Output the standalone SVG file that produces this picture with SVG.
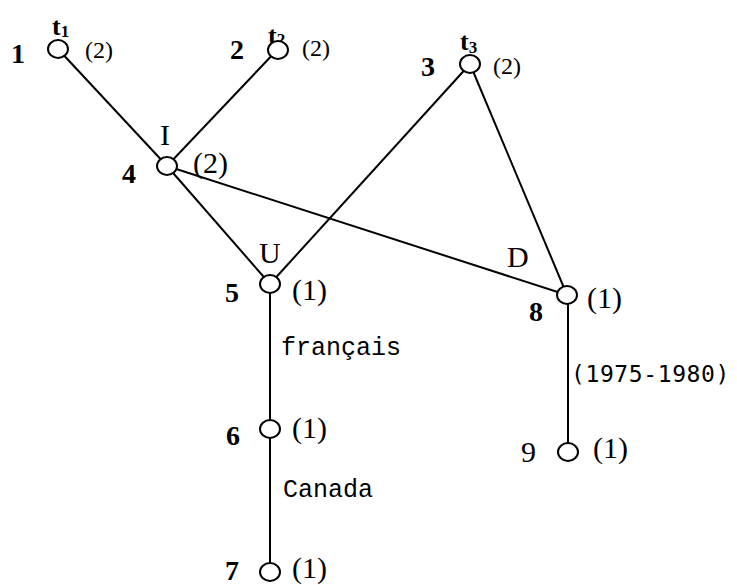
<svg xmlns="http://www.w3.org/2000/svg" width="737" height="585" viewBox="0 0 737 585">
<style>
.e{stroke:#000;stroke-width:2;fill:none}
.n{fill:#fff;stroke:#000;stroke-width:2}
.id{font-family:"Liberation Serif",serif;font-weight:bold;font-size:28px}
.t{font-family:"Liberation Serif",serif;font-weight:bold;font-size:26px}
.ts{font-family:"Liberation Serif",serif;font-weight:bold;font-size:17px}
.w{font-family:"Liberation Serif",serif;font-size:30px}
.ws{font-family:"Liberation Serif",serif;font-size:24px}
.lb{font-family:"Liberation Serif",serif;font-size:30px}
.m{font-family:"Liberation Mono",monospace;font-size:25px}
.ms{font-family:"DejaVu Sans Mono",monospace;font-size:23px;letter-spacing:0.6px}
</style>
<rect width="737" height="585" fill="#fff"/>
<g id="connectors">
<line class="e" x1="58" y1="49" x2="167" y2="166"/>
<line class="e" x1="278" y1="49" x2="167" y2="166"/>
<line class="e" x1="167" y1="166" x2="270" y2="284"/>
<line class="e" x1="167" y1="166" x2="567" y2="295"/>
<line class="e" x1="470" y1="64" x2="270" y2="284"/>
<line class="e" x1="470" y1="64" x2="567" y2="295"/>
<line class="e" x1="270" y1="284" x2="270" y2="429"/>
<line class="e" x1="270" y1="429" x2="270" y2="572"/>
<line class="e" x1="568" y1="295" x2="568" y2="452"/>
<text class="m" x="281" y="355">français</text>
<text class="m" x="283" y="497">Canada</text>
<text class="ms" x="571" y="382">(1975-1980)</text>
</g>
<g id="node1">
<text class="t" x="52" y="35">t<tspan class="ts" dy="2">1</tspan></text>
<ellipse class="n" cx="58" cy="49" rx="10" ry="9"/>
<text class="id" x="11" y="63">1</text>
<text class="ws" x="85" y="58">(2)</text>
</g>
<g id="node2">
<text class="t" x="268" y="44">t<tspan class="ts" dy="1">2</tspan></text>
<ellipse class="n" cx="278" cy="50" rx="10" ry="9"/>
<text class="id" x="230" y="59">2</text>
<text class="ws" x="302" y="56">(2)</text>
</g>
<g id="node3">
<text class="t" x="460" y="50">t<tspan class="ts" dy="3">3</tspan></text>
<ellipse class="n" cx="470" cy="64" rx="10" ry="9"/>
<text class="id" x="421" y="76">3</text>
<text class="ws" x="493" y="74">(2)</text>
</g>
<g id="node4">
<text class="lb" x="160" y="145">I</text>
<ellipse class="n" cx="167" cy="166" rx="10" ry="9"/>
<text class="id" x="122" y="183">4</text>
<text class="w" x="193" y="173">(2)</text>
</g>
<g id="node5">
<text class="lb" x="259" y="263">U</text>
<ellipse class="n" cx="270" cy="284" rx="10" ry="9"/>
<text class="id" x="225" y="302">5</text>
<text class="w" x="292" y="300">(1)</text>
</g>
<g id="node6">
<ellipse class="n" cx="270" cy="429" rx="10" ry="9"/>
<text class="id" x="226" y="445">6</text>
<text class="w" x="292" y="438">(1)</text>
</g>
<g id="node7">
<ellipse class="n" cx="270" cy="572" rx="10" ry="9"/>
<text class="id" x="225" y="580">7</text>
<text class="w" x="292" y="578">(1)</text>
</g>
<g id="node8">
<text class="lb" x="507" y="267">D</text>
<ellipse class="n" cx="567" cy="295" rx="10" ry="9"/>
<text class="id" x="529" y="321">8</text>
<text class="w" x="587" y="308">(1)</text>
</g>
<g id="node9">
<ellipse class="n" cx="568" cy="452" rx="10" ry="9"/>
<text class="w" x="521" y="462">9</text>
<text class="w" x="593" y="458">(1)</text>
</g>
</svg>
